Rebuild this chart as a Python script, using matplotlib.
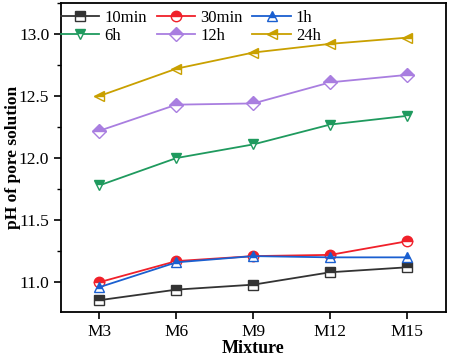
import matplotlib.pyplot as plt
from matplotlib.ticker import MultipleLocator

plt.rcParams['font.family'] = ['Liberation Serif', 'DejaVu Serif']

# 各配合比及不同时间点的孔溶液pH
mixtures = ['M3', 'M6', 'M9', 'M12', 'M15']
ph_10min = [10.855, 10.94, 10.98, 11.08, 11.12]
ph_30min = [11.00, 11.17, 11.21, 11.22, 11.33]
ph_1h = [10.96, 11.16, 11.21, 11.20, 11.20]
ph_6h = [11.78, 12.00, 12.11, 12.27, 12.34]
ph_12h = [12.22, 12.43, 12.44, 12.61, 12.67]
ph_24h = [12.50, 12.72, 12.85, 12.92, 12.97]

series = [
    ('10min', ph_10min, '#333333', 's'),
    ('30min', ph_30min, '#f0202a', 'o'),
    ('1h', ph_1h, '#1a5fd0', '^'),
    ('6h', ph_6h, '#1f9a5e', 'v'),
    ('12h', ph_12h, '#a97ee0', 'D'),
    ('24h', ph_24h, '#c9a000', '<'),
]

fig = plt.figure(figsize=(4.5, 3.59), dpi=100)
ax = fig.add_axes([0.1356, 0.131, 0.855, 0.861])
x = range(len(mixtures))
handles = []
for label, vals, color, marker in series:
    h, = ax.plot(x, vals, color=color, marker=marker, markersize=7.5, lw=1.3,
                 fillstyle='top', markerfacecoloralt='white', markeredgecolor=color,
                 markeredgewidth=1.0, label=label)
    handles.append(h)

ax.set_xlim(-0.5, 4.5)
ax.set_ylim(10.76, 13.25)
ax.set_xticks(list(x))
ax.set_xticklabels(mixtures)
ax.yaxis.set_major_locator(MultipleLocator(0.5))
ax.yaxis.set_minor_locator(MultipleLocator(0.25))
ax.yaxis.set_major_formatter(plt.FormatStrFormatter('%.1f'))
ax.tick_params(axis='both', which='major', labelsize=12.5, length=5, width=1.2)
ax.tick_params(axis='y', which='minor', length=3, width=1.0)
for sp in ax.spines.values():
    sp.set_linewidth(1.3)

ax.set_xlabel('Mixture', fontsize=13, fontweight='bold', labelpad=0)
ax.set_ylabel('pH of pore solution', fontsize=12.5, fontweight='bold')
ax.yaxis.set_label_coords(-0.105, 0.5)

# 图例按行排列: 10min 30min 1h / 6h 12h 24h
order = [0, 3, 1, 4, 2, 5]
ax.legend([handles[i] for i in order], [series[i][0] for i in order],
          ncol=3, loc='upper left', frameon=False, fontsize=12,
          handlelength=2.3, handletextpad=0.3, columnspacing=0.6,
          labelspacing=0.15, borderaxespad=0.1, bbox_to_anchor=(-0.022, 1.005))

fig.savefig('out.png', dpi=100)
